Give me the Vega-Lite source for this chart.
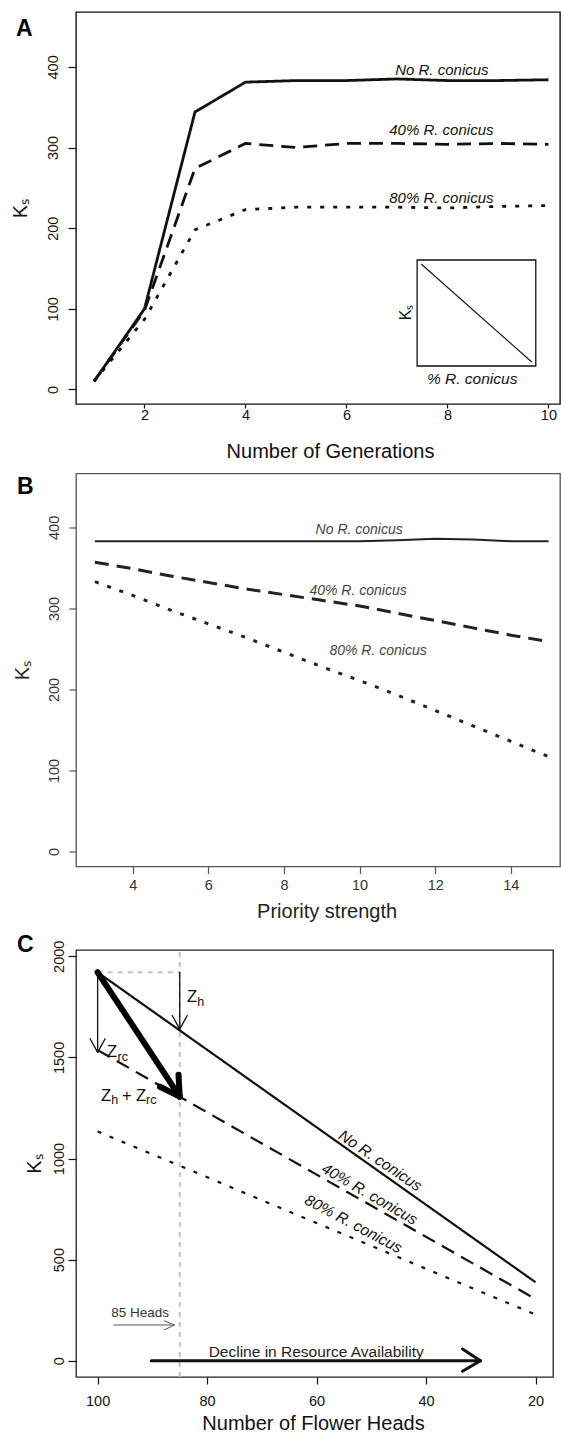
{
  "$schema": "https://vega.github.io/schema/vega-lite/v6.json",
  "padding": {"left": 9, "top": 11, "right": 0, "bottom": 0},
  "spacing": 10.5,
  "background": "#ffffff",
  "config": {
    "font": "Liberation Sans",
    "axis": {"domain": false, "grid": false, "labelFont": "Liberation Sans", "titleFont": "Liberation Sans", "labelColor": "#111", "titleColor": "#111", "tickColor": "#111", "tickWidth": 1.2, "titleFontWeight": "normal", "labelFontSize": 14.5, "titleFontSize": 20, "labelOverlap": false, "labelFlush": false, "labelBound": false, "format": "d"},
    "text": {"font": "Liberation Sans"}
  },
  "vconcat": [
    {
      "width": 484, "height": 392,
      "view": {"stroke": "#111", "strokeWidth": 1.4},
      "encoding": {
        "x": {"field": "x", "type": "quantitative", "scale": {"domain": [0.6435, 10.2296], "nice": false, "zero": false},
          "axis": {"values": [2, 4, 6, 8, 10], "title": "Number of Generations", "tickSize": 4, "labelPadding": 0.5, "titleX": 254, "titleY": 47, "titleBaseline": "middle", "titleAlign": "center"}},
        "y": {"field": "y", "type": "quantitative", "scale": {"domain": [-18, 468], "nice": false, "zero": false},
          "axis": {"values": [0, 100, 200, 300, 400], "title": "Kₛ", "tickSize": 8, "labelPadding": 7.5, "labelAngle": -90, "labelAlign": "center", "labelBaseline": "bottom", "titleX": -56, "titleY": 196, "titleAngle": -90, "titleAlign": "center", "titleBaseline": "middle"}}
      },
      "layer": [
        {
          "data": {"values": [
            {"x": 1, "y": 10, "s": "none"}, {"x": 2, "y": 100, "s": "none"}, {"x": 3, "y": 344, "s": "none"}, {"x": 4, "y": 381, "s": "none"}, {"x": 5, "y": 383, "s": "none"}, {"x": 6, "y": 383, "s": "none"}, {"x": 7, "y": 385, "s": "none"}, {"x": 8, "y": 383, "s": "none"}, {"x": 9, "y": 383, "s": "none"}, {"x": 10, "y": 384, "s": "none"},
            {"x": 1, "y": 10, "s": "40"}, {"x": 2, "y": 98, "s": "40"}, {"x": 3, "y": 274, "s": "40"}, {"x": 4, "y": 305, "s": "40"}, {"x": 5, "y": 300, "s": "40"}, {"x": 6, "y": 305, "s": "40"}, {"x": 7, "y": 305, "s": "40"}, {"x": 8, "y": 304, "s": "40"}, {"x": 9, "y": 305, "s": "40"}, {"x": 10, "y": 304, "s": "40"},
            {"x": 1, "y": 10, "s": "80"}, {"x": 2, "y": 87, "s": "80"}, {"x": 3, "y": 198, "s": "80"}, {"x": 4, "y": 223, "s": "80"}, {"x": 5, "y": 226, "s": "80"}, {"x": 6, "y": 226, "s": "80"}, {"x": 7, "y": 226, "s": "80"}, {"x": 8, "y": 225, "s": "80"}, {"x": 9, "y": 227, "s": "80"}, {"x": 10, "y": 228, "s": "80"}
          ]},
          "mark": {"type": "line", "strokeWidth": 2.8, "color": "#111"},
          "encoding": {"strokeDash": {"field": "s", "type": "nominal", "scale": {"domain": ["none", "40", "80"], "range": [[1, 0], [14, 8], [4, 9]]}, "legend": null}}
        },
        {
          "data": {"values": [
            {"x": 7.89, "y": 396, "t": "No R. conicus"},
            {"x": 7.88, "y": 321.5, "t": "40% R. conicus"},
            {"x": 7.88, "y": 237.6, "t": "80% R. conicus"}
          ]},
          "mark": {"type": "text", "fontStyle": "italic", "fontSize": 15, "color": "#111", "align": "center", "baseline": "middle"},
          "encoding": {"text": {"field": "t"}}
        },
        {
          "data": {"values": [{"x": 7.40, "x2": 9.75, "y": 29.1, "y2": 160.5}]},
          "mark": {"type": "rect", "fillOpacity": 0, "stroke": "#111", "strokeWidth": 1.3},
          "encoding": {"x2": {"field": "x2"}, "y2": {"field": "y2"}}
        },
        {
          "data": {"values": [{"x": 7.48, "y": 155.6, "x2": 9.67, "y2": 34.1}]},
          "mark": {"type": "rule", "color": "#111", "strokeWidth": 1.1},
          "encoding": {"x2": {"field": "x2"}, "y2": {"field": "y2"}}
        },
        {
          "data": {"values": [{"x": 7.18, "y": 95.5, "t": "Kₛ"}]},
          "mark": {"type": "text", "fontSize": 16, "angle": 270, "color": "#111", "align": "center", "baseline": "middle"},
          "encoding": {"text": {"field": "t"}}
        },
        {
          "data": {"values": [{"x": 8.49, "y": 12.5, "t": "% R. conicus"}]},
          "mark": {"type": "text", "fontSize": 15.5, "fontStyle": "italic", "color": "#111", "align": "center", "baseline": "middle"},
          "encoding": {"text": {"field": "t"}}
        },
        {
          "data": {"values": [{"x": -0.545, "y": 438.3, "t": "A"}]},
          "mark": {"type": "text", "fontSize": 23, "fontWeight": "bold", "color": "#000", "align": "left", "baseline": "alphabetic"},
          "encoding": {"text": {"field": "t"}}
        }
      ]
    },
    {
      "width": 484, "height": 393,
      "view": {"stroke": "#555", "strokeWidth": 1.3},
      "encoding": {
        "x": {"field": "x", "type": "quantitative", "scale": {"domain": [2.5001, 15.301], "nice": false, "zero": false},
          "axis": {"values": [4, 6, 8, 10, 12, 14], "title": "Priority strength", "tickSize": 7, "labelPadding": 4.5, "tickColor": "#555", "labelColor": "#333", "titleColor": "#222", "titleX": 250.6, "titleY": 45, "titleBaseline": "middle", "titleAlign": "center"}},
        "y": {"field": "y", "type": "quantitative", "scale": {"domain": [-18.5, 466.5], "nice": false, "zero": false},
          "axis": {"values": [0, 100, 200, 300, 400], "title": "Kₛ", "tickSize": 7, "labelPadding": 8, "tickColor": "#555", "labelColor": "#333", "titleColor": "#222", "labelAngle": -90, "labelAlign": "center", "labelBaseline": "bottom", "titleX": -54, "titleY": 196.5, "titleAngle": -90, "titleAlign": "center", "titleBaseline": "middle"}}
      },
      "layer": [
        {
          "data": {"values": [
            {"x": 3, "y": 383, "s": "none"}, {"x": 4, "y": 383, "s": "none"}, {"x": 5, "y": 383, "s": "none"}, {"x": 6, "y": 383, "s": "none"}, {"x": 7, "y": 383, "s": "none"}, {"x": 8, "y": 383, "s": "none"}, {"x": 9, "y": 383, "s": "none"}, {"x": 10, "y": 383, "s": "none"}, {"x": 11, "y": 384, "s": "none"}, {"x": 12, "y": 386, "s": "none"}, {"x": 13, "y": 385, "s": "none"}, {"x": 14, "y": 383, "s": "none"}, {"x": 15, "y": 383, "s": "none"}
          ]},
          "mark": {"type": "line", "strokeWidth": 2, "color": "#222"}
        },
        {
          "data": {"values": [
            {"x": 3, "y": 357, "s": "40"}, {"x": 4, "y": 349, "s": "40"}, {"x": 5, "y": 340, "s": "40"}, {"x": 6, "y": 332, "s": "40"}, {"x": 7, "y": 324, "s": "40"}, {"x": 8, "y": 317, "s": "40"}, {"x": 9, "y": 310, "s": "40"}, {"x": 10, "y": 303, "s": "40"}, {"x": 11, "y": 294, "s": "40"}, {"x": 12, "y": 285, "s": "40"}, {"x": 13, "y": 276, "s": "40"}, {"x": 14, "y": 267, "s": "40"}, {"x": 15, "y": 259, "s": "40"},
            {"x": 3, "y": 333, "s": "80"}, {"x": 4, "y": 316, "s": "80"}, {"x": 5, "y": 298, "s": "80"}, {"x": 6, "y": 281, "s": "80"}, {"x": 7, "y": 264, "s": "80"}, {"x": 8, "y": 246, "s": "80"}, {"x": 9, "y": 228, "s": "80"}, {"x": 10, "y": 211, "s": "80"}, {"x": 11, "y": 193, "s": "80"}, {"x": 12, "y": 174, "s": "80"}, {"x": 13, "y": 155, "s": "80"}, {"x": 14, "y": 136, "s": "80"}, {"x": 15, "y": 117, "s": "80"}
          ]},
          "mark": {"type": "line", "strokeWidth": 3, "color": "#222"},
          "encoding": {"strokeDash": {"field": "s", "type": "nominal", "scale": {"domain": ["40", "80"], "range": [[18, 9], [4, 10]]}, "legend": null}}
        },
        {
          "data": {"values": [
            {"x": 9.99, "y": 397, "t": "No R. conicus"},
            {"x": 9.96, "y": 321.5, "t": "40% R. conicus"},
            {"x": 10.49, "y": 247.3, "t": "80% R. conicus"}
          ]},
          "mark": {"type": "text", "fontStyle": "italic", "fontSize": 14, "color": "#444", "align": "center", "baseline": "middle"},
          "encoding": {"text": {"field": "t"}}
        },
        {
          "data": {"values": [{"x": 0.94, "y": 441, "t": "B"}]},
          "mark": {"type": "text", "fontSize": 23, "fontWeight": "bold", "color": "#000", "align": "left", "baseline": "alphabetic"},
          "encoding": {"text": {"field": "t"}}
        }
      ]
    },
    {
      "width": 477, "height": 427,
      "view": {"stroke": "#222", "strokeWidth": 1.3},
      "encoding": {
        "x": {"field": "x", "type": "quantitative", "scale": {"domain": [16.81, 103.95], "reverse": true, "nice": false, "zero": false},
          "axis": {"values": [100, 80, 60, 40, 20], "title": "Number of Flower Heads", "tickSize": 7, "labelPadding": 10, "titleX": 237, "titleY": 46.5, "titleBaseline": "middle", "titleAlign": "center"}},
        "y": {"field": "y", "type": "quantitative", "scale": {"domain": [-80.6, 2031.2], "nice": false, "zero": false},
          "axis": {"values": [0, 500, 1000, 1500, 2000], "title": "Kₛ", "tickSize": 8, "labelPadding": 2, "labelAngle": -90, "labelAlign": "center", "labelBaseline": "bottom", "titleX": -42, "titleY": 213.5, "titleAngle": -90, "titleAlign": "center", "titleBaseline": "middle"}}
      },
      "layer": [
        {
          "data": {"values": [
            {"x": 85, "y": -80.6, "x2": 85, "y2": 2031.2},
            {"x": 100, "y": 1921, "x2": 85, "y2": 1921}
          ]},
          "mark": {"type": "rule", "color": "#c4c4c4", "strokeWidth": 2, "strokeDash": [5, 5]},
          "encoding": {"x2": {"field": "x2"}, "y2": {"field": "y2"}}
        },
        {
          "data": {"values": [
            {"x": 100, "y": 1921, "s": "none"}, {"x": 20, "y": 388, "s": "none"},
            {"x": 100, "y": 1536, "s": "40"}, {"x": 20, "y": 305, "s": "40"},
            {"x": 100, "y": 1134, "s": "80"}, {"x": 20, "y": 228, "s": "80"}
          ]},
          "mark": {"type": "line", "strokeWidth": 2.2, "color": "#111"},
          "encoding": {"strokeDash": {"field": "s", "type": "nominal", "scale": {"domain": ["none", "40", "80"], "range": [[1, 0], [20, 11], [3, 6]]}, "legend": null}}
        },
        {
          "data": {"values": [
            {"x": 85, "y": 1921, "x2": 85, "y2": 1640},
            {"x": 86.37, "y": 1707, "x2": 85, "y2": 1640},
            {"x": 83.63, "y": 1707, "x2": 85, "y2": 1640},
            {"x": 100, "y": 1921, "x2": 100, "y2": 1525},
            {"x": 101.37, "y": 1592, "x2": 100, "y2": 1525},
            {"x": 98.63, "y": 1592, "x2": 100, "y2": 1525}
          ]},
          "mark": {"type": "rule", "color": "#111", "strokeWidth": 1.3, "strokeCap": "round"},
          "encoding": {"x2": {"field": "x2"}, "y2": {"field": "y2"}}
        },
        {
          "data": {"values": [
            {"x": 100, "y": 1921, "x2": 85, "y2": 1306},
            {"x": 85.22, "y": 1414, "x2": 85, "y2": 1306},
            {"x": 88.62, "y": 1355, "x2": 85, "y2": 1306}
          ]},
          "mark": {"type": "rule", "color": "#000", "strokeWidth": 6, "strokeCap": "round"},
          "encoding": {"x2": {"field": "x2"}, "y2": {"field": "y2"}}
        },
        {
          "data": {"values": [
            {"x": 97.06, "y": 176.6, "x2": 85.95, "y2": 176.6},
            {"x": 87.9, "y": 197.8, "x2": 85.95, "y2": 176.6},
            {"x": 87.9, "y": 151.8, "x2": 85.95, "y2": 176.6}
          ]},
          "mark": {"type": "rule", "color": "#555", "strokeWidth": 1},
          "encoding": {"x2": {"field": "x2"}, "y2": {"field": "y2"}}
        },
        {
          "data": {"values": [
            {"x": 90.2, "y": 0, "x2": 30.07, "y2": 0},
            {"x": 33.34, "y": 57.9, "x2": 30.07, "y2": 0},
            {"x": 33.34, "y": -52.4, "x2": 30.07, "y2": 0}
          ]},
          "mark": {"type": "rule", "color": "#111", "strokeWidth": 3, "strokeCap": "round"},
          "encoding": {"x2": {"field": "x2"}, "y2": {"field": "y2"}}
        },
        {
          "data": {"values": [
            {"x": 83.67, "y": 1772.5, "t": "Z"},
            {"x": 98.28, "y": 1500.5, "t": "Z"},
            {"x": 99.38, "y": 1285.9, "t": "Z"},
            {"x": 95.54, "y": 1285.9, "t": "+"},
            {"x": 92.98, "y": 1285.9, "t": "Z"}
          ]},
          "mark": {"type": "text", "fontSize": 16.5, "color": "#111", "align": "left", "baseline": "alphabetic"},
          "encoding": {"text": {"field": "t"}}
        },
        {
          "data": {"values": [
            {"x": 81.82, "y": 1755.2, "t": "h"},
            {"x": 96.35, "y": 1483.2, "t": "rc"},
            {"x": 97.53, "y": 1268.6, "t": "h"},
            {"x": 91.14, "y": 1268.6, "t": "rc"}
          ]},
          "mark": {"type": "text", "fontSize": 12.5, "color": "#111", "align": "left", "baseline": "alphabetic"},
          "encoding": {"text": {"field": "t"}}
        },
        {
          "data": {"values": [{"x": 92.22, "y": 236, "t": "85 Heads"}]},
          "mark": {"type": "text", "fontSize": 13.5, "color": "#333", "align": "center", "baseline": "middle"},
          "encoding": {"text": {"field": "t"}}
        },
        {
          "data": {"values": [{"x": 60.07, "y": 45, "t": "Decline in Resource Availability"}]},
          "mark": {"type": "text", "fontSize": 15.5, "color": "#222", "align": "center", "baseline": "middle"},
          "encoding": {"text": {"field": "t"}}
        },
        {
          "data": {"values": [{"x": 48.37, "y": 989, "t": "No R. conicus"}]},
          "mark": {"type": "text", "fontSize": 15.5, "fontStyle": "italic", "angle": 34, "color": "#111", "align": "center", "baseline": "middle"},
          "encoding": {"text": {"field": "t"}}
        },
        {
          "data": {"values": [{"x": 50.33, "y": 824, "t": "40% R. conicus"}]},
          "mark": {"type": "text", "fontSize": 15.5, "fontStyle": "italic", "angle": 30, "color": "#111", "align": "center", "baseline": "middle"},
          "encoding": {"text": {"field": "t"}}
        },
        {
          "data": {"values": [{"x": 53.27, "y": 676, "t": "80% R. conicus"}]},
          "mark": {"type": "text", "fontSize": 15.5, "fontStyle": "italic", "angle": 28, "color": "#111", "align": "center", "baseline": "middle"},
          "encoding": {"text": {"field": "t"}}
        },
        {
          "data": {"values": [{"x": 114.72, "y": 2019.8, "t": "C"}]},
          "mark": {"type": "text", "fontSize": 23, "fontWeight": "bold", "color": "#000", "align": "left", "baseline": "alphabetic"},
          "encoding": {"text": {"field": "t"}}
        }
      ]
    }
  ]
}
